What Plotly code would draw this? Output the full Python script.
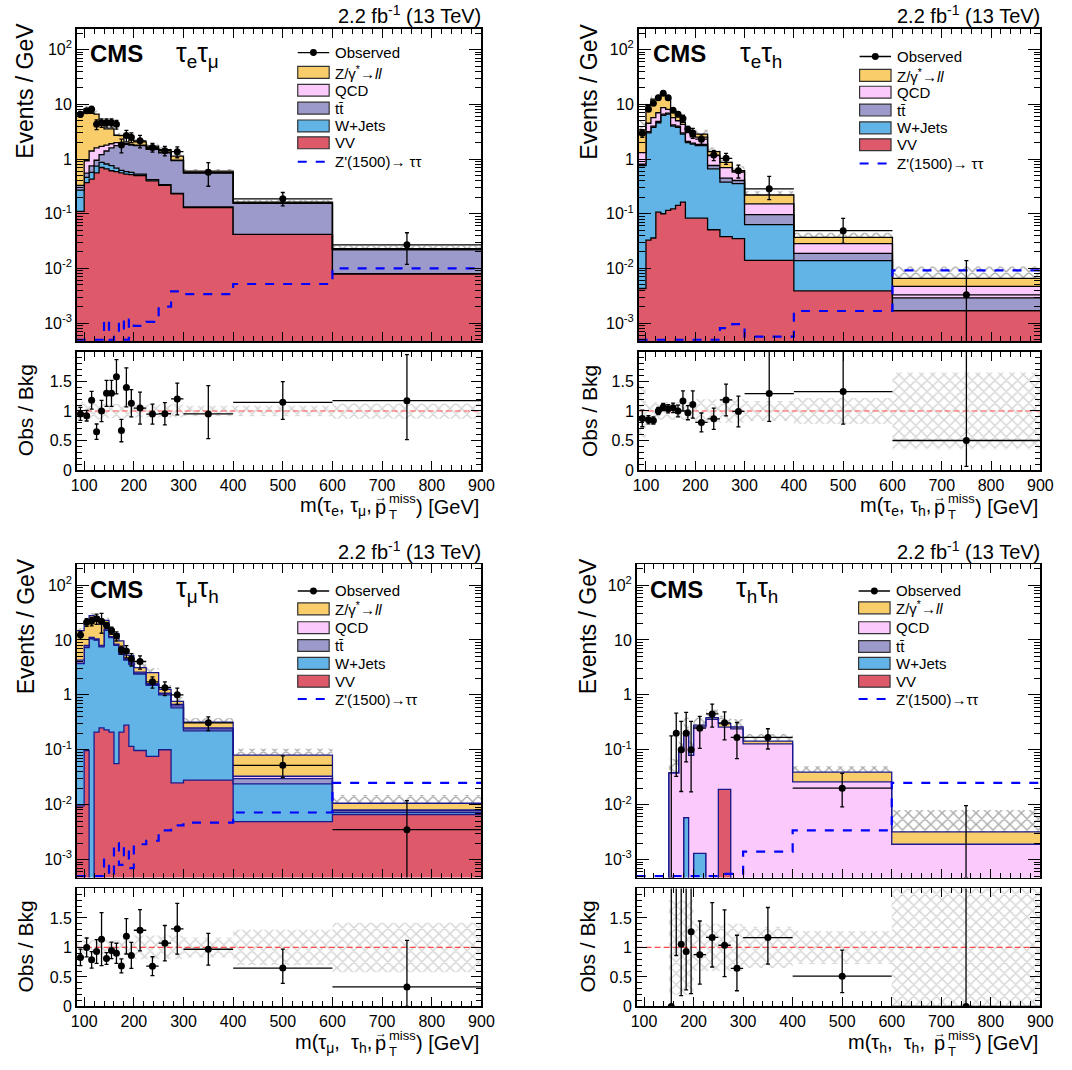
import numpy as np
import plotly.graph_objects as go

# ---------------- data ----------------
edges = [85, 100, 110, 120, 130, 140, 150, 160, 170, 180, 190, 200, 225, 250, 275, 300, 400, 600, 900]
x_tick_vals = [100, 200, 300, 400, 500, 600, 700, 800, 900]
y_tick_vals = [1e-3, 1e-2, 1e-1, 1, 10, 100]
y_tick_text = ["10<sup>-3</sup>", "10<sup>-2</sup>", "10<sup>-1</sup>", "1", "10", "10<sup>2</sup>"]
r_tick_vals = [0, 0.5, 1, 1.5]
r_tick_text = ["0", "0.5", "1", "1.5"]

# tau_e tau_mu
em_vv = [0.11, 0.37, 0.43, 0.56, 0.70, 0.66, 0.61, 0.59, 0.56, 0.53, 0.52, 0.50, 0.40, 0.33, 0.23, 0.13, 0.042, 0.008]
em_wj = [0.16, 0.09, 0.14, 0.18, 0.17, 0.15, 0.15, 0.09, 0.06, 0.06, 0.05, 0.03, 0.02, 0.01, 0.005, 0.003, 0.0, 0.0]
em_tt = [0.06, 0.09, 0.18, 0.21, 0.33, 0.59, 0.84, 1.07, 1.23, 1.26, 1.23, 1.22, 1.08, 0.96, 0.70, 0.42, 0.113, 0.014]
em_qcd = [0.0, 0.38, 0.65, 0.65, 0.50, 0.40, 0.30, 0.25, 0.10, 0.05, 0.05, 0.05, 0.05, 0.03, 0.02, 0.01, 0.002, 0.0]
em_dy = [6.62, 7.33, 5.46, 5.02, 2.90, 1.74, 1.64, 0.72, 0.74, 0.03, 0.36, 0.25, 0.17, 0.16, 0.175, 0.037, 0.006, 0.001]
em_obs = [6.6, 7.6, 8.1, 4.3, 4.6, 4.6, 4.6, 4.3, 1.8, 2.7, 2.5, 2.15, 1.63, 1.42, 1.36, 0.57, 0.187, 0.027]
em_err_up = [0.11, 0.09, 0.15, 0.13, 0.18, 0.22, 0.22, 0.29, 0.19, 0.33, 0.23, 0.27, 0.17, 0.19, 0.27, 0.48, 0.35, 0.78]
em_err_dn = [0.11, 0.09, 0.15, 0.13, 0.18, 0.22, 0.22, 0.29, 0.19, 0.33, 0.23, 0.27, 0.17, 0.19, 0.27, 0.42, 0.29, 0.66]
em_unc = [0.15, 0.15, 0.15, 0.15, 0.15, 0.12, 0.12, 0.12, 0.12, 0.12, 0.12, 0.11, 0.11, 0.11, 0.11, 0.09, 0.09, 0.13]
em_zp = [0, 0, 0, 0, 0, 1.15e-3, 0, 6.1e-4, 1.16e-3, 0, 1.16e-3, 8.9e-4, 1.06e-3, 2.0e-3, 3.8e-3, 3.4e-3, 5.2e-3, 1.0e-2]

# tau_e tau_h
eh_vv = [0.0043, 0.033, 0.036, 0.107, 0.10, 0.115, 0.123, 0.142, 0.163, 0.083, 0.083, 0.083, 0.051, 0.038, 0.035, 0.014, 0.0039, 0.0017]
eh_wj = [0.75, 2.97, 3.76, 4.49, 6.2, 6.49, 3.88, 3.66, 2.69, 1.92, 1.79, 1.67, 0.61, 0.34, 0.32, 0.049, 0.010, 0.0]
eh_tt = [0.05, 0.15, 0.2, 0.25, 0.3, 0.3, 0.2, 0.2, 0.15, 0.1, 0.08, 0.1, 0.1, 0.07, 0.05, 0.033, 0.005, 0.0012]
eh_qcd = [0.5, 1.35, 1.7, 2.15, 2.1, 1.2, 1.5, 1.0, 1.3, 0.95, 0.6, 0.65, 0.39, 0.25, 0.17, 0.056, 0.0095, 0.0018]
eh_dy = [2.1, 5.0, 6.7, 6.2, 6.2, 4.6, 1.7, 1.6, 0.4, 0.55, 0.15, 0.35, 0.21, 0.17, 0.04, 0.068, 0.0085, 0.0019]
eh_obs = [2.97, 8.1, 10.4, 13.2, 15.9, 13.2, 7.8, 6.6, 5.5, 3.5, 3.0, 2.3, 1.18, 1.03, 0.61, 0.285, 0.049, 0.0033]
eh_err_up = [0.14, 0.07, 0.06, 0.06, 0.06, 0.07, 0.08, 0.1, 0.17, 0.12, 0.23, 0.16, 0.18, 0.27, 0.26, 0.9, 0.9, 1.6]
eh_err_dn = [0.14, 0.07, 0.06, 0.06, 0.06, 0.07, 0.08, 0.1, 0.17, 0.12, 0.23, 0.16, 0.18, 0.27, 0.26, 0.47, 0.55, 0.44]
eh_unc = [0.45, 0.15, 0.15, 0.15, 0.15, 0.15, 0.15, 0.15, 0.15, 0.15, 0.15, 0.2, 0.2, 0.2, 0.2, 0.17, 0.22, 0.65]
eh_zp = [0, 0, 0, 0, 0, 0, 0, 0, 0, 0, 0, 0, 0, 8.1e-4, 9.6e-4, 5.7e-4, 1.67e-3, 9.2e-3]

# tau_mu tau_h
mh_vv = [0.0095, 0.097, 0.0, 0.21, 0.25, 0.23, 0.21, 0.056, 0.21, 0.28, 0.115, 0.097, 0.076, 0.10, 0.025, 0.028, 0.0049, 0.0066]
mh_wj = [3.69, 7.2, 10.5, 9.79, 7.25, 14.77, 10.79, 7.94, 5.29, 4.02, 3.49, 2.3, 1.42, 0.9, 0.555, 0.192, 0.019, 0.0006]
mh_tt = [0.1, 0.15, 0.2, 0.2, 0.2, 0.3, 0.25, 0.2, 0.15, 0.12, 0.1, 0.1, 0.06, 0.05, 0.05, 0.02, 0.006, 0.0006]
mh_qcd = [0.5, 0.5, 0.4, 0.3, 0.3, 0.4, 0.3, 0.2, 0.15, 0.1, 0.1, 0.1, 0.05, 0.03, 0.04, 0.01, 0.003, 0.0002]
mh_dy = [10.5, 13.05, 16.6, 15.7, 11.2, 7.1, 4.15, 4.7, 3.8, 0.78, 1.4, 0.54, 0.93, 0.18, 0.09, 0.07, 0.047, 0.0026]
mh_obs = [12.3, 21.0, 21.9, 24.4, 21.9, 18.5, 14.9, 11.8, 6.6, 6.3, 4.5, 4.05, 1.73, 1.35, 1.0, 0.31, 0.052, 0.0035]
mh_err_up = [0.14, 0.16, 0.14, 0.2, 0.45, 0.1, 0.14, 0.17, 0.12, 0.3, 0.22, 0.35, 0.16, 0.3, 0.43, 0.27, 0.32, 0.79]
mh_err_dn = [0.14, 0.16, 0.14, 0.2, 0.45, 0.1, 0.14, 0.17, 0.12, 0.3, 0.22, 0.35, 0.16, 0.3, 0.43, 0.27, 0.26, 0.33]
mh_unc = [0.12, 0.12, 0.12, 0.12, 0.12, 0.12, 0.12, 0.12, 0.12, 0.12, 0.12, 0.2, 0.2, 0.2, 0.2, 0.17, 0.3, 0.42]
mh_zp = [0, 0, 0, 0, 0, 1.0e-3, 4.5e-4, 2.0e-3, 8e-4, 1.7e-3, 7e-4, 1.9e-3, 2.2e-3, 3.4e-3, 4.2e-3, 4.7e-3, 7.2e-3, 2.5e-2]

# tau_h tau_h
nan = float("nan")
hh_vv = [0, 0, 0, 0, 0, 0, 0, 0, 0, 0, 0, 0, 0, 0.019, 0, 0, 0, 0]
hh_wj = [0, 0, 0, 0, 0, 0, 0, 0, 0, 0.0058, 0, 0.0013, 0, 0, 0, 0, 0, 0]
hh_tt = [0, 0, 0, 0, 0, 0, 0, 0, 0, 0, 0, 0, 0, 0, 0, 0, 0, 0]
hh_qcd = [0, 0, 0, 0, 0, 0, 0.038, 0.038, 0.095, 0.209, 0.079, 0.26, 0.36, 0.24, 0.24, 0.128, 0.026, 0.0019]
hh_dy = [0, 0, 0, 0, 0, 0, 0, 0, 0, 0, 0, 0.02, 0.025, 0.04, 0.02, 0.016, 0.013, 0.0013]
hh_obs = [nan, nan, nan, nan, nan, nan, 0, 0.2, 0.1, 0.2, 0.1, 0.247, 0.45, 0.31, 0.168, 0.168, 0.02, 0]
hh_err_up = [0, 0, 0, 0, 0, 0, 4.7, 7.0, 2.4, 1.3, 2.9, 0.57, 0.59, 0.6, 0.56, 0.51, 0.44, 3.0]
hh_err_dn = [0, 0, 0, 0, 0, 0, 0, 4.4, 0.87, 0.65, 1.05, 0.5, 0.5, 0.53, 0.38, 0.45, 0.28, 0]
hh_unc = [0, 0, 0, 0, 0, 0, 0.8, 0.8, 0.8, 0.8, 0.8, 0.4, 0.4, 0.4, 0.4, 0.35, 0.28, 1.5]
hh_zp = [0, 0, 0, 0, 0, 0, 0, 0, 0, 0, 0, 0, 0, 5.5e-4, 5.5e-4, 1.39e-3, 3.4e-3, 2.5e-2]

comp_colors = ["#de5a6a", "#62b4e6", "#9c99cb", "#fbc9fb", "#f9cd6a"]   # VV, W+Jets, tt, QCD, Z/gamma*
legend_labels = ["Observed", "Z/γ<sup>*</sup>→<i>ll</i>", "QCD", "tt\u0304", "W+Jets", "VV"]

panels = [
    dict(vv=em_vv, wj=em_wj, tt=em_tt, qcd=em_qcd, dy=em_dy, obs=em_obs, up=em_err_up, dn=em_err_dn,
         unc=em_unc, zp=em_zp, chan="τ<sub>e</sub>τ<sub>μ</sub>",
         xt_head="m(τ<sub>e</sub>, τ<sub>μ</sub>,", zlabel="Z'(1500)→ ττ", outline="#000000"),
    dict(vv=eh_vv, wj=eh_wj, tt=eh_tt, qcd=eh_qcd, dy=eh_dy, obs=eh_obs, up=eh_err_up, dn=eh_err_dn,
         unc=eh_unc, zp=eh_zp, chan="τ<sub>e</sub>τ<sub>h</sub>",
         xt_head="m(τ<sub>e</sub>, τ<sub>h</sub>,", zlabel="Z'(1500)→ ττ", outline="#000000"),
    dict(vv=mh_vv, wj=mh_wj, tt=mh_tt, qcd=mh_qcd, dy=mh_dy, obs=mh_obs, up=mh_err_up, dn=mh_err_dn,
         unc=mh_unc, zp=mh_zp, chan="τ<sub>μ</sub>τ<sub>h</sub>",
         xt_head="m(τ<sub>μ</sub>,  τ<sub>h</sub>,", zlabel="Z'(1500)→ττ", outline="#1a1a8c"),
    dict(vv=hh_vv, wj=hh_wj, tt=hh_tt, qcd=hh_qcd, dy=hh_dy, obs=hh_obs, up=hh_err_up, dn=hh_err_dn,
         unc=hh_unc, zp=hh_zp, chan="τ<sub>h</sub>τ<sub>h</sub>",
         xt_head="m(τ<sub>h</sub>,  τ<sub>h</sub>, ", zlabel="Z'(1500)→ττ", outline="#1a1a8c"),
]

# ---------------- layout geometry (pixels) ----------------
W, H = 1072, 1070
geom = [
    dict(fx=(72, 484), my=(29, 344), ry=(355, 474), lumi_y=15, cms=(85, 54), chan=(172, 55),
         yt=(20, 92), rt=(20, 414), xt_y=511, leg_x=297, leg_rows=[53, 73, 91, 109, 127, 144, 163]),
    dict(fx=(644, 1053), my=(29, 344), ry=(355, 474), lumi_y=15, cms=(658, 54), chan=(746, 55),
         yt=(594, 92), rt=(594, 414), xt_y=511, leg_x=869, leg_rows=[57, 76, 93, 111, 129, 146, 165]),
    dict(fx=(72, 484), my=(569, 885), ry=(896, 1015), lumi_y=555, cms=(85, 594), chan=(172, 595),
         yt=(20, 632), rt=(20, 955), xt_y=1052, leg_x=297, leg_rows=[596, 614, 633, 651, 669, 687, 705]),
    dict(fx=(642, 1053), my=(569, 885), ry=(896, 1015), lumi_y=555, cms=(655, 594), chan=(742, 595),
         yt=(592, 632), rt=(592, 955), xt_y=1052, leg_x=868, leg_rows=[596, 613, 633, 652, 669, 687, 705]),
]

FONT = "Liberation Sans, Arial, Helvetica, sans-serif"
FLOOR = 1e-6
YMIN, YMAX = 4.7e-4, 240.0
XMIN, XMAX = 85, 900


def PX(px):
    return px / W


def PY(py):
    return 1 - py / H


e = np.array(edges, float)
centers = 0.5 * (e[:-1] + e[1:])
halfw = 0.5 * (e[1:] - e[:-1])

fig = go.Figure()
shapes = []
annotations = []
layout_axes = {}

log_minor = [k * 10.0 ** d for d in range(-4, 3) for k in range(2, 10) if YMIN < k * 10.0 ** d < YMAX]
x_minor = [v for v in range(100, 901, 20) if v % 100 != 0]
r_minor = [round(0.1 * k, 1) for k in range(0, 20) if k % 5 != 0]


def ann(text, x, y, size, xanchor="left", yanchor="middle", angle=0, color="black"):
    annotations.append(dict(text=text, x=PX(x), y=PY(y), xref="paper", yref="paper",
                            xanchor=xanchor, yanchor=yanchor, showarrow=False, textangle=angle,
                            borderpad=0, font=dict(family=FONT, size=size, color=color)))


for i, (p, g) in enumerate(zip(panels, geom)):
    m, r = 2 * i + 1, 2 * i + 2
    xm = "x" if m == 1 else f"x{m}"
    ymr = "y" if m == 1 else f"y{m}"
    xr, yr = f"x{r}", f"y{r}"
    outline = p["outline"]

    comps = np.array([p["vv"], p["wj"], p["tt"], p["qcd"], p["dy"]], float)
    cum = np.cumsum(comps, axis=0)
    tot = cum[-1]
    obs = np.array(p["obs"], float)
    up = np.array(p["up"], float)
    dn = np.array(p["dn"], float)
    unc = np.array(p["unc"], float)
    zp = np.array(p["zp"], float)

    # stacked step histograms
    fig.add_trace(go.Scatter(x=e, y=np.full(len(e), FLOOR), mode="lines",
                             line=dict(width=0, shape="hv"), xaxis=xm, yaxis=ymr,
                             showlegend=False, hoverinfo="skip"))
    for k in range(5):
        yk = np.maximum(np.append(cum[k], cum[k][-1]), FLOOR)
        fig.add_trace(go.Scatter(x=e, y=yk, mode="lines",
                                 line=dict(color=outline, width=1.3, shape="hv"),
                                 fill="tonexty", fillcolor=comp_colors[k],
                                 xaxis=xm, yaxis=ymr, showlegend=False, hoverinfo="skip"))

    # uncertainty band (main)
    mk = tot > 0
    lo = np.maximum(tot * (1 - unc), FLOOR)
    hi = tot * (1 + unc)
    fig.add_trace(go.Bar(x=centers[mk], y=(hi - lo)[mk], base=lo[mk], width=(2 * halfw)[mk],
                         marker=dict(color="rgba(0,0,0,0)", line=dict(width=0),
                                     pattern=dict(shape="x", fgcolor="#555555", bgcolor="rgba(0,0,0,0)",
                                                  size=8, solidity=0.32, fillmode="overlay")),
                         xaxis=xm, yaxis=ymr, showlegend=False, hoverinfo="skip"))

    # Z' signal
    yz = np.maximum(np.append(zp, zp[-1]), YMIN * 1.06)
    fig.add_trace(go.Scatter(x=e, y=yz, mode="lines",
                             line=dict(color="#0000ff", width=2.2, dash="dash", shape="hv"),
                             xaxis=xm, yaxis=ymr, showlegend=False, hoverinfo="skip"))

    # observed (main)
    mo = np.isfinite(obs) & (obs > 0)
    ratio = np.where(tot > 0, np.nan_to_num(obs) / np.where(tot > 0, tot, 1), np.nan)
    e_up = up * tot
    e_dn = np.minimum(dn * tot, np.nan_to_num(obs) - FLOOR)
    fig.add_trace(go.Scatter(x=centers[mo], y=obs[mo], mode="markers",
                             marker=dict(color="black", size=7),
                             error_x=dict(type="data", array=halfw[mo], color="black", thickness=1.3, width=0),
                             error_y=dict(type="data", symmetric=False, array=e_up[mo], arrayminus=e_dn[mo],
                                          color="black", thickness=1.3, width=2),
                             xaxis=xm, yaxis=ymr, showlegend=False, hoverinfo="skip"))
    mz = np.isfinite(obs) & (obs == 0) & (tot > 0)
    if mz.any():
        fig.add_trace(go.Scatter(x=centers[mz], y=np.full(mz.sum(), YMIN), mode="markers",
                                 marker=dict(color="black", size=1, opacity=0),
                                 error_y=dict(type="data", symmetric=False, array=(e_up - YMIN)[mz],
                                              arrayminus=np.zeros(mz.sum()), color="black",
                                              thickness=1.3, width=2),
                                 xaxis=xm, yaxis=ymr, showlegend=False, hoverinfo="skip"))

    # ratio panel
    rlo = np.maximum(1 - unc, 0)
    rhi = 1 + unc
    fig.add_trace(go.Bar(x=centers[mk], y=(rhi - rlo)[mk], base=rlo[mk], width=(2 * halfw)[mk],
                         marker=dict(color="rgba(0,0,0,0)", line=dict(width=0),
                                     pattern=dict(shape="x", fgcolor="#a9a9a9", bgcolor="rgba(0,0,0,0)",
                                                  size=8, solidity=0.32, fillmode="overlay")),
                         xaxis=xr, yaxis=yr, showlegend=False, hoverinfo="skip"))
    fig.add_trace(go.Scatter(x=[XMIN, XMAX], y=[1, 1], mode="lines",
                             line=dict(color="#ff4d4d", width=1.2, dash="6px,3px"),
                             xaxis=xr, yaxis=yr, showlegend=False, hoverinfo="skip"))
    mr = np.isfinite(obs) & (tot > 0)
    fig.add_trace(go.Scatter(x=centers[mr], y=ratio[mr], mode="markers",
                             marker=dict(color="black", size=7),
                             error_x=dict(type="data", array=halfw[mr], color="black", thickness=1.3, width=0),
                             error_y=dict(type="data", symmetric=False, array=up[mr], arrayminus=dn[mr],
                                          color="black", thickness=1.3, width=2),
                             xaxis=xr, yaxis=yr, showlegend=False, hoverinfo="skip"))

    # axes
    x0, x1 = g["fx"]
    common = dict(showline=True, linecolor="black", linewidth=1.6, mirror="ticks", ticks="inside",
                  tickcolor="black", tickwidth=1, showgrid=False, zeroline=False,
                  tickfont=dict(family=FONT, size=16, color="black"))
    layout_axes["xaxis" if m == 1 else f"xaxis{m}"] = dict(
        common, domain=[PX(x0), PX(x1)], anchor=ymr, range=[XMIN, XMAX], showticklabels=False,
        tickmode="array", tickvals=x_tick_vals, ticklen=9,
        minor=dict(tickmode="array", tickvals=x_minor, ticks="inside", ticklen=5, tickcolor="black"))
    layout_axes["yaxis" if m == 1 else f"yaxis{m}"] = dict(
        common, domain=[PY(g["my"][1]), PY(g["my"][0])], anchor=xm, type="log",
        range=[np.log10(YMIN), np.log10(YMAX)], tickmode="array", tickvals=y_tick_vals,
        ticktext=y_tick_text, ticklen=12,
        minor=dict(tickmode="array", tickvals=log_minor, ticks="inside", ticklen=6, tickcolor="black"))
    layout_axes[f"xaxis{r}"] = dict(
        common, domain=[PX(x0), PX(x1)], anchor=yr, range=[XMIN, XMAX], tickmode="array",
        tickvals=x_tick_vals, ticklen=9,
        minor=dict(tickmode="array", tickvals=x_minor, ticks="inside", ticklen=5, tickcolor="black"))
    layout_axes[f"yaxis{r}"] = dict(
        common, domain=[PY(g["ry"][1]), PY(g["ry"][0])], anchor=xr, range=[0, 1.999],
        tickmode="array", tickvals=r_tick_vals, ticktext=r_tick_text, ticklen=10,
        minor=dict(tickmode="array", tickvals=r_minor, ticks="inside", ticklen=5, tickcolor="black"))

    # texts
    ann("2.2 fb<sup>-1</sup> (13 TeV)", x1 + 1, g["lumi_y"], 20, xanchor="right")
    ann("<b>CMS</b>", g["cms"][0], g["cms"][1], 24)
    ann(p["chan"], g["chan"][0], g["chan"][1], 27)
    ann("Events / GeV", g["yt"][0], g["yt"][1], 23, xanchor="center", angle=-90)
    ann("Obs / Bkg", g["rt"][0], g["rt"][1], 21, xanchor="center", angle=-90)

    # x-axis title, built from pieces so that p has an arrow and T/miss are stacked
    ty = g["xt_y"]
    ann(") [GeV]", x1 - 1, ty, 20, xanchor="right")
    ann("miss", x1 - 95, ty - 8, 13)
    ann("T", x1 - 95, ty + 8, 13)
    ann("p", x1 - 96, ty, 20, xanchor="right")
    ann("→", x1 - 102, ty - 10, 12, xanchor="center")
    ann(p["xt_head"], x1 - 110, ty, 20, xanchor="right")

    # manual legend
    lx = g["leg_x"]
    rows = g["leg_rows"]
    bw = 32
    shapes.append(dict(type="line", xref="paper", yref="paper", x0=PX(lx), x1=PX(lx + bw),
                       y0=PY(rows[0]), y1=PY(rows[0]), line=dict(color="black", width=1.3)))
    shapes.append(dict(type="circle", xref="paper", yref="paper", x0=PX(lx + bw / 2 - 3.5),
                       x1=PX(lx + bw / 2 + 3.5), y0=PY(rows[0] + 3.5), y1=PY(rows[0] - 3.5),
                       fillcolor="black", line=dict(color="black", width=0)))
    ann(legend_labels[0], lx + bw + 5, rows[0], 15)
    box_colors = [comp_colors[4], comp_colors[3], comp_colors[2], comp_colors[1], comp_colors[0]]
    for j in range(5):
        ry = rows[j + 1]
        shapes.append(dict(type="rect", xref="paper", yref="paper", x0=PX(lx), x1=PX(lx + bw),
                           y0=PY(ry + 6), y1=PY(ry - 6), fillcolor=box_colors[j],
                           line=dict(color="#333333", width=1.2)))
        ann(legend_labels[j + 1], lx + bw + 5, ry, 15)
    shapes.append(dict(type="line", xref="paper", yref="paper", x0=PX(lx), x1=PX(lx + bw),
                       y0=PY(rows[6]), y1=PY(rows[6]), line=dict(color="#0000ff", width=2, dash="dash")))
    ann(p["zlabel"], lx + bw + 5, rows[6], 15)

fig.update_layout(width=W, height=H, margin=dict(l=0, r=0, t=0, b=0),
                  paper_bgcolor="white", plot_bgcolor="white", showlegend=False,
                  barmode="overlay", shapes=shapes, annotations=annotations, **layout_axes)
fig.write_html("out.html", config={"displayModeBar": False, "staticPlot": True},
               post_script="document.body.style.margin='0px';document.body.style.overflow='hidden';")
